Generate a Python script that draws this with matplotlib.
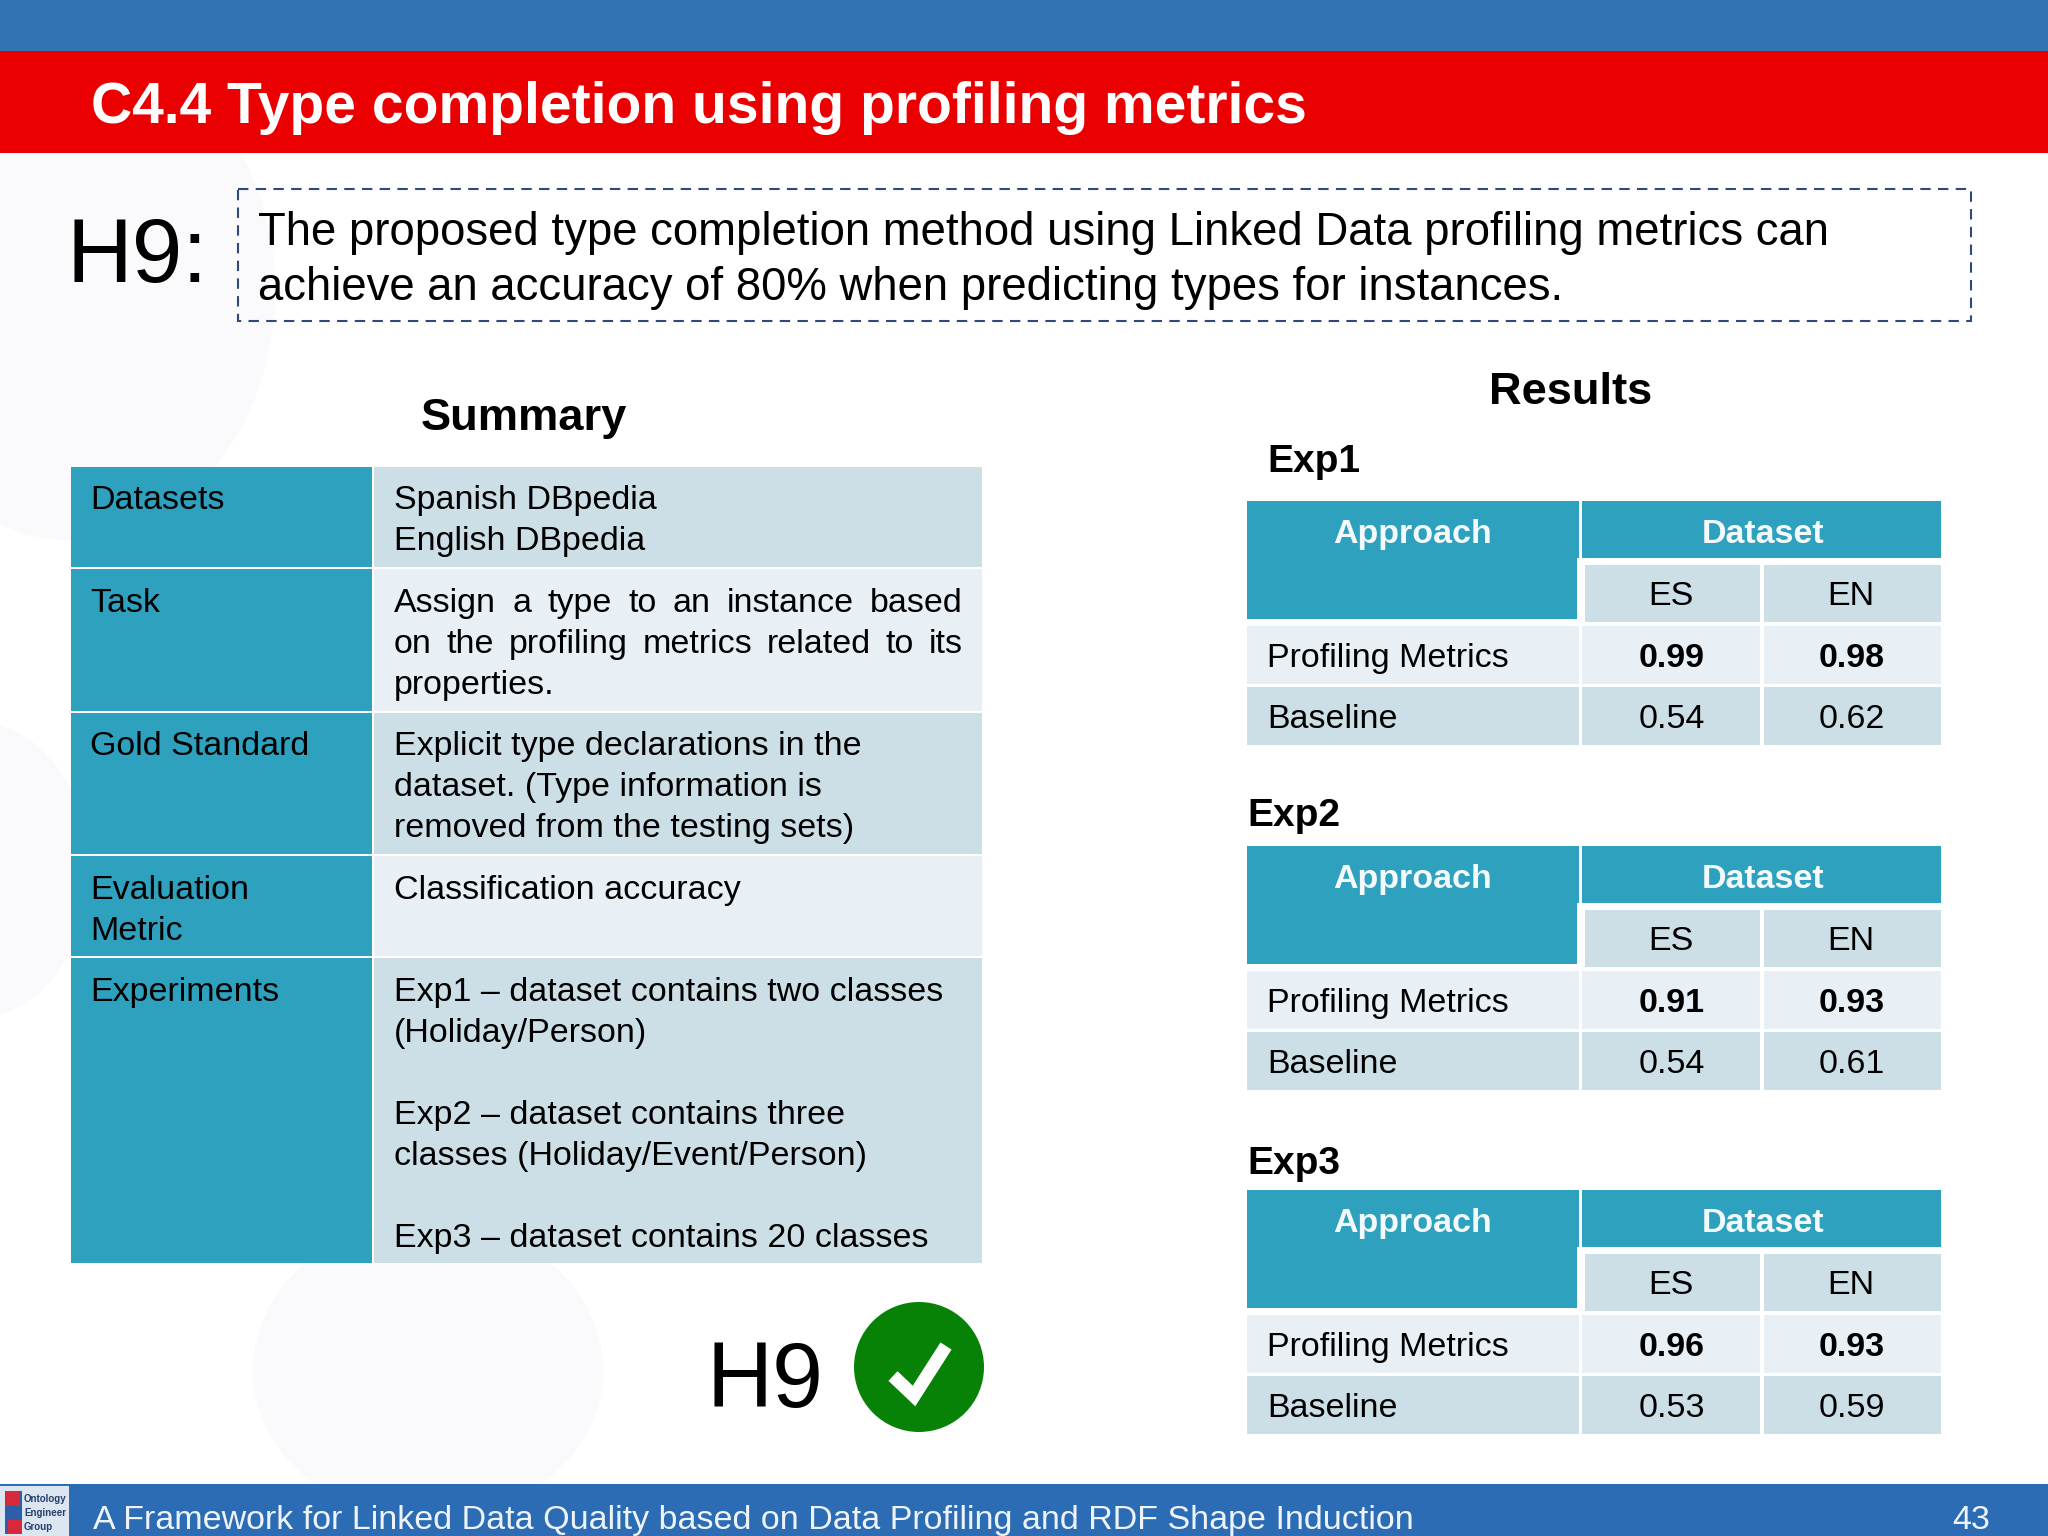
import matplotlib
matplotlib.use("Agg")
import matplotlib.pyplot as plt
from matplotlib.patches import Rectangle, Circle, Ellipse

plt.rcParams['font.family'] = ['Liberation Sans', 'DejaVu Sans']

# slide text
title = "C4.4 Type completion using profiling metrics"
hypothesis = ["The proposed type completion method using Linked Data profiling metrics can",
              "achieve an accuracy of 80% when predicting types for instances."]
footer = "A Framework for Linked Data Quality based on Data Profiling and RDF Shape Induction"
page_no = "43"

# summary table
summary_keys = [["Datasets"], ["Task"], ["Gold Standard"], ["Evaluation", "Metric"], ["Experiments"]]
summary_vals = [
    ["Spanish DBpedia", "English DBpedia"],
    ["Assign a type to an instance based", "on the profiling metrics related to its", "properties."],
    ["Explicit type declarations in the", "dataset. (Type information is", "removed from the testing sets)"],
    ["Classification accuracy"],
    ["Exp1 \u2013 dataset contains two classes", "(Holiday/Person)", "",
     "Exp2 \u2013 dataset contains three", "classes (Holiday/Event/Person)", "",
     "Exp3 \u2013 dataset contains 20 classes"],
]

# results
exp_names = ["Exp1", "Exp2", "Exp3"]
approaches = ["Profiling Metrics", "Baseline"]
datasets = ["ES", "EN"]
profiling_scores = [[0.99, 0.98], [0.91, 0.93], [0.96, 0.93]]
baseline_scores = [[0.54, 0.62], [0.54, 0.61], [0.53, 0.59]]

TEAL = "#2EA1BF"
LIGHT = "#CDDFE6"
PALE = "#E8EFF5"
BODY = 24.5

fig = plt.figure(figsize=(20.48, 15.36), dpi=100)
ax = fig.add_axes([0, 0, 1, 1])
ax.set_xlim(0, 2048)
ax.set_ylim(1536, 0)
ax.axis("off")


def box(x0, y0, x1, y1, color, z=2):
    ax.add_patch(Rectangle((x0, y0), x1 - x0, y1 - y0, facecolor=color, edgecolor="none", zorder=z))


def put(x, y, s, size=BODY, weight="normal", color="black", ha="left"):
    return ax.text(x, y, s, fontsize=size, fontweight=weight, color=color, ha=ha, va="baseline", zorder=5)


def justified(x0, x1, y, s):
    # spread the words so the line fills the cell
    words = s.split(" ")
    rend = fig.canvas.get_renderer()
    widths = []
    for w in words:
        t = put(x0, y, w)
        widths.append(t.get_window_extent(rend).width)
        t.remove()
    gap = (x1 - x0 - sum(widths)) / (len(words) - 1)
    x = x0
    for w, wd in zip(words, widths):
        put(x, y, w)
        x += wd + gap


# faint background blobs
for (cx, cy, w, h) in [(70, 290, 410, 500), (-30, 870, 240, 300), (428, 1370, 350, 300)]:
    ax.add_patch(Ellipse((cx, cy), w, h, facecolor="#FAFAFC", edgecolor="none", zorder=0))

# header and footer bands
box(0, 0, 2048, 51, "#3273B2")
box(0, 51, 2048, 153, "#EA0000")
put(91, 123, title, size=41, weight="bold", color="white")
box(0, 1484, 2048, 1536, "#2B6CB4")
put(93, 1529, footer, size=BODY, color="#EEF3FA")
put(1990, 1529, page_no, size=BODY, color="#EEF3FA", ha="right")

# logo
box(0, 1486, 69, 1536, "#DCE6F0")
box(5, 1491, 22, 1534, "#2C5FA8")
box(6, 1491, 20, 1506, "#D8283C")
box(8, 1520, 22, 1534, "#D8283C")
for yy, s in zip([1502, 1516, 1530], ["Ontology", "Engineer", "Group"]):
    put(24, yy, s, size=7, weight="bold", color="#23406E")

# hypothesis
put(67, 282, "H9:", size=65.5)
ax.add_patch(Rectangle((238, 189), 1733, 132, facecolor="none", edgecolor="#2F4A7A", linewidth=1.5,
                       linestyle=(0, (5, 3.5)), zorder=3))
put(258, 245, hypothesis[0], size=32.8)
put(258, 300, hypothesis[1], size=32.8)

# summary table
put(524, 430, "Summary", size=32.6, weight="bold", ha="center")
row_tops = [467, 569, 713, 856, 958]
row_bots = [567, 711, 854, 956, 1263]
first_base = [509, 612, 755, 899, 1001]
row_colors = [LIGHT, PALE, LIGHT, PALE, LIGHT]
line_h = 41
for i in range(len(summary_keys)):
    box(71, row_tops[i], 372, row_bots[i], TEAL)
    box(374, row_tops[i], 982, row_bots[i], row_colors[i])
    for j, s in enumerate(summary_keys[i]):
        put(90, first_base[i] + j * line_h, s)
    for j, s in enumerate(summary_vals[i]):
        y = first_base[i] + j * line_h
        if i == 1 and j < 2:
            justified(394, 963, y, s)
        elif s:
            put(394, y, s)

# verdict
put(706, 1407, "H9", size=66)
ax.add_patch(Circle((919, 1367), 65, facecolor="#078207", edgecolor="none", zorder=3))
ax.plot([893, 914, 946], [1376, 1396, 1346], color="white", lw=9.5, solid_joinstyle="miter",
        solid_capstyle="butt", zorder=4)

# results tables
put(1571, 404, "Results", size=32.6, weight="bold", ha="center")
exp_label_x = [1267, 1247, 1247]
exp_label_y = [472, 826, 1174]
offsets = [0, 345, 689]
col_x = [(1585, 1760), (1764, 1941)]
for k, name in enumerate(exp_names):
    dy = offsets[k]
    put(exp_label_x[k], exp_label_y[k], name, size=28, weight="bold")
    box(1247, 501 + dy, 1579, 558 + dy, TEAL)
    box(1247, 558 + dy, 1577, 619 + dy, TEAL)
    box(1582, 501 + dy, 1941, 558 + dy, TEAL)
    put(1413, 543 + dy, "Approach", weight="bold", color="#F4FAFC", ha="center")
    put(1763, 543 + dy, "Dataset", weight="bold", color="#F4FAFC", ha="center")
    for c, d in enumerate(datasets):
        box(col_x[c][0], 565 + dy, col_x[c][1], 622 + dy, LIGHT)
        put(sum(col_x[c]) / 2 - 2, 605 + dy, d, ha="center")
    rows = [profiling_scores[k], baseline_scores[k]]
    tops = [626, 687]
    bots = [684, 745]
    cols = [PALE, LIGHT]
    for r, a in enumerate(approaches):
        box(1247, tops[r] + dy, 1579, bots[r] + dy, cols[r])
        put(1267, tops[r] + 41 + dy, a)
        for c in range(2):
            x0 = 1582 if c == 0 else col_x[c][0]
            box(x0, tops[r] + dy, col_x[c][1], bots[r] + dy, cols[r])
            put(sum(col_x[c]) / 2 - 1, tops[r] + 41 + dy, "%.2f" % rows[r][c],
                weight="bold" if r == 0 else "normal", ha="center")

fig.savefig("out.png", dpi=100, facecolor="white")
